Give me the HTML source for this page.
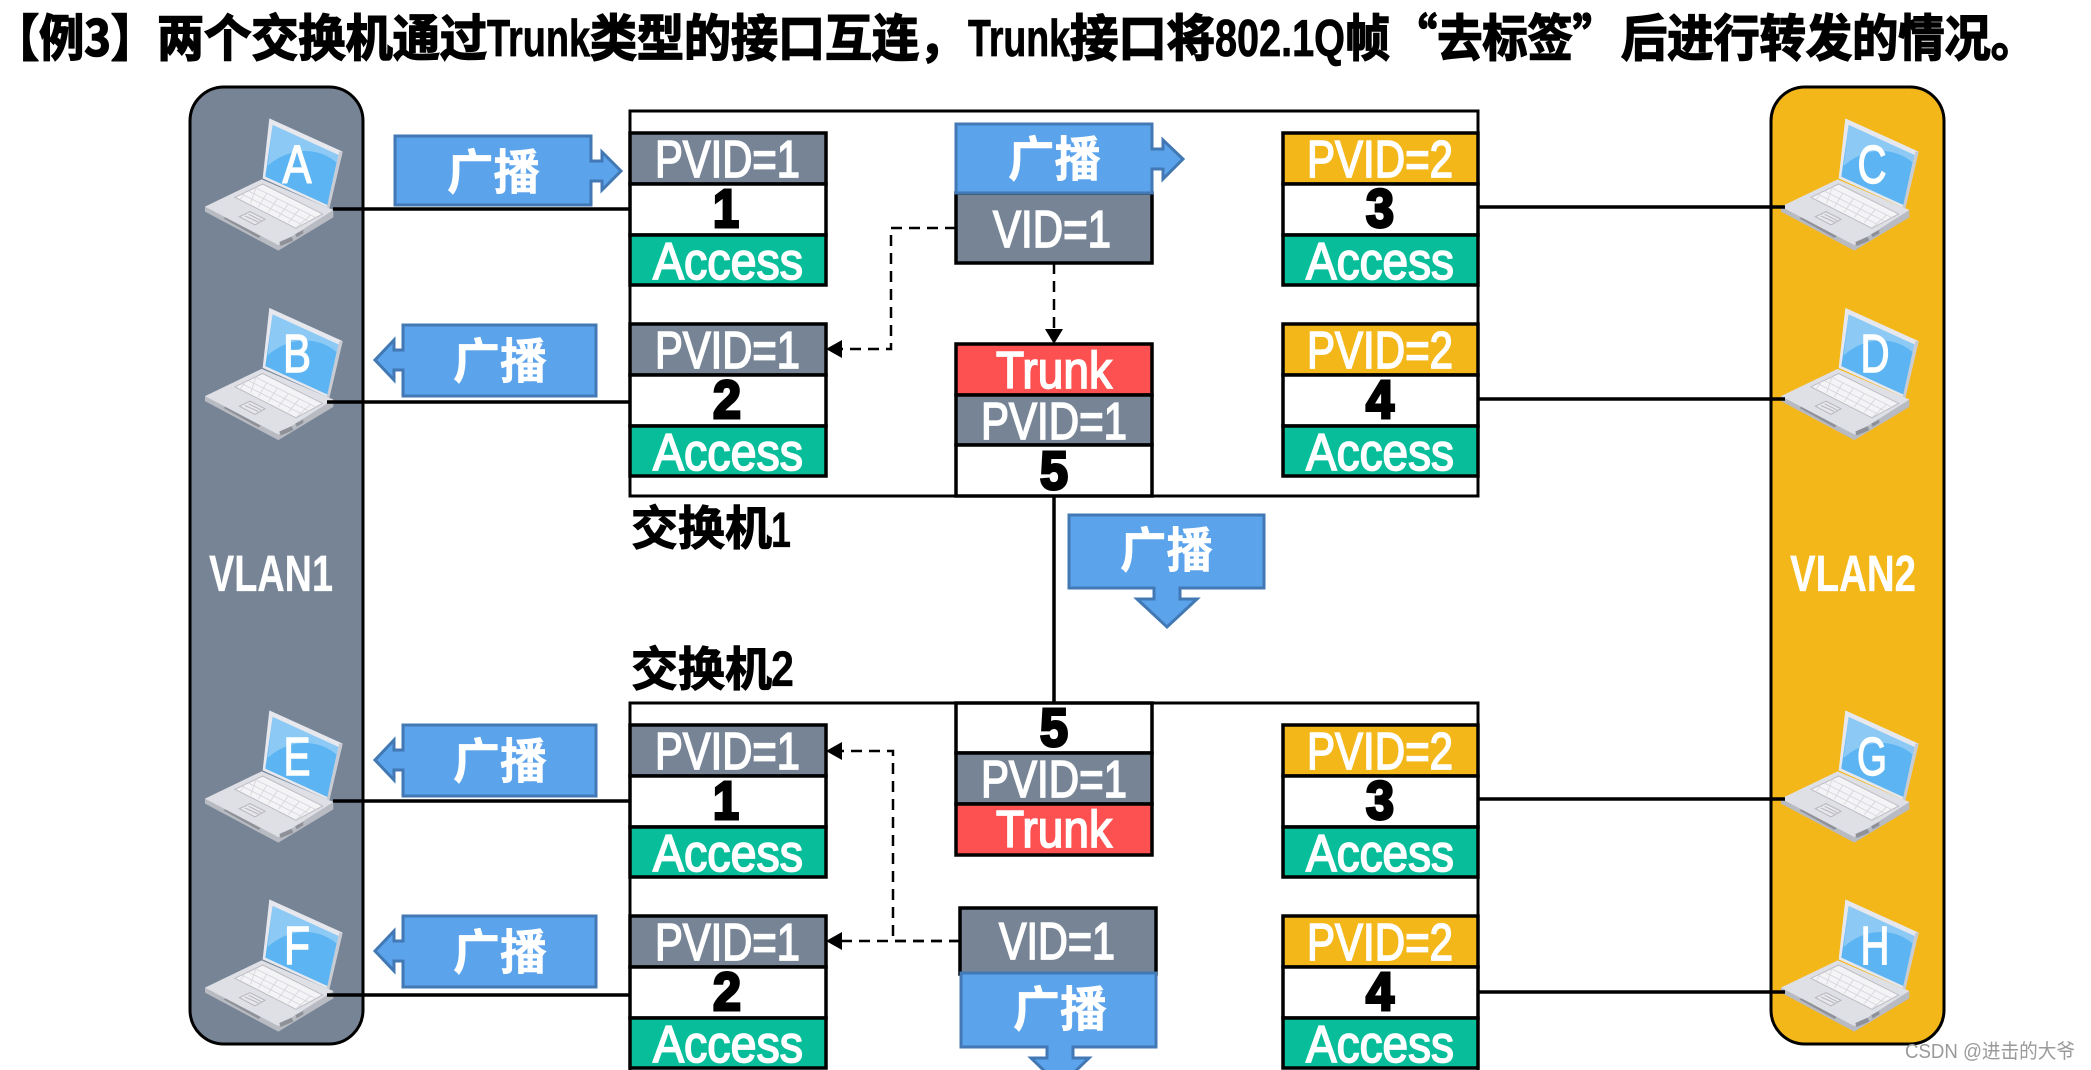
<!DOCTYPE html>
<html lang="zh"><head><meta charset="utf-8"><title>Trunk</title>
<style>
html,body{margin:0;padding:0;background:#fff;width:2091px;height:1070px;overflow:hidden}
svg{display:block}
text{font-family:"Liberation Sans","Noto Sans CJK SC",sans-serif}
.t{font-size:52px;font-weight:700;fill:#000;stroke:#000;stroke-width:.8}
.c{font-size:50px;font-weight:700;fill:#000;stroke:#000;stroke-width:1.6;font-family:"Noto Sans CJK SC",sans-serif}
.s{font-size:47px;font-weight:700;fill:#000;stroke:#000;stroke-width:1;font-family:"Noto Sans CJK SC",sans-serif}
.w{font-size:52px;fill:#fff;stroke:#fff;stroke-width:1.7;transform:translateY(-1px)}
.n{font-size:54px;font-weight:700;fill:#000;stroke:#000;stroke-width:3;text-anchor:middle;transform:translateY(-1px)}
.b{font-size:48px;font-weight:700;fill:#fff;stroke:#fff;stroke-width:.5;font-family:"Noto Sans CJK SC",sans-serif;transform:translateY(-2px)}
.l{font-size:51px;fill:#fff;stroke:#fff;stroke-width:.3;font-weight:700;transform:translateY(-1px)}
.pk{font-size:54px;fill:#fff;stroke:#fff;stroke-width:1.4;text-anchor:middle}
.r{stroke:#000;stroke-width:3.5}
.ar{fill:#5BA3EB;stroke:#4279B4;stroke-width:3}
</style></head><body>
<svg width="2091" height="1070" viewBox="0 0 2091 1070" xmlns="http://www.w3.org/2000/svg">
<defs>
<g id="lap">
<polygon points="238,25 458,125 418,295 218,205" fill="#e6e8ee"/>
<polygon points="458,125 418,295 410,292 448,125" fill="#c9cbd3"/>
<polygon points="248,45 445,135 412,285 226,200" fill="#5CB5F2"/>
<path d="M248,45 L445,135 L440,158 C380,105 290,115 233,168Z" fill="#8CCAF5"/>
<polygon points="45,305 45,290 430,300 430,322 265,422" fill="#b9bbc3"/>
<polygon points="45,290 215,208 430,300 265,405" fill="#dfe0e6"/>
<polygon points="135,262 218,222 398,312 318,355" fill="#f4f4f7" stroke="#bdbdc4" stroke-width="3"/>
<g stroke="#d5d5db" stroke-width="2.5">
<path d="M155,252 L338,345 M175,243 L358,335 M196,233 L378,323 M165,247 L150,270 M198,232 L182,280 M230,250 L205,292 M262,266 L235,307 M295,282 L265,322 M328,298 L295,338 M362,315 L320,352"/>
</g>
<polygon points="148,320 180,305 225,328 195,345" fill="#e8e8ec" stroke="#b5b5bb" stroke-width="3"/>
<path d="M165,318 L205,336 M176,313 L214,332" stroke="#b5b5bb" stroke-width="3"/>
<polygon points="100,325 106,322 212,378 206,384" fill="#8f9199"/>
<polygon points="268,396 305,380 310,392 272,408" fill="#8f9199"/>
<polygon points="316,372 340,360 340,370 320,382" fill="#8f9199"/>
</g>
</defs>

<!-- title -->
<text class="c" x="-6" y="56" textLength="162" lengthAdjust="spacingAndGlyphs">【例3】</text>
<text class="c" x="157" y="56" textLength="330" lengthAdjust="spacingAndGlyphs">两个交换机通过</text>
<text class="t" x="487" y="56" textLength="103" lengthAdjust="spacingAndGlyphs">Trunk</text>
<text class="c" x="590" y="56" textLength="376" lengthAdjust="spacingAndGlyphs">类型的接口互连，</text>
<text class="t" x="968" y="56" textLength="102" lengthAdjust="spacingAndGlyphs">Trunk</text>
<text class="c" x="1070" y="56" textLength="145" lengthAdjust="spacingAndGlyphs">接口将</text>
<text class="t" x="1215" y="56" textLength="130" lengthAdjust="spacingAndGlyphs">802.1Q</text>
<text class="c" x="1345" y="56" textLength="45" lengthAdjust="spacingAndGlyphs">帧</text>
<text class="c" x="1392" y="56" textLength="226" lengthAdjust="spacingAndGlyphs">“去标签”</text>
<text class="c" x="1621" y="56" textLength="416" lengthAdjust="spacingAndGlyphs">后进行转发的情况。</text>

<!-- VLAN panels -->
<rect x="190" y="87" width="173" height="957" rx="34" fill="#778495" stroke="#000" stroke-width="3"/>
<rect x="1771" y="87" width="173" height="957" rx="34" fill="#F4B71A" stroke="#000" stroke-width="3"/>
<text class="l" x="209" y="592" textLength="124" lengthAdjust="spacingAndGlyphs">VLAN1</text>
<text class="l" x="1790" y="592" textLength="126" lengthAdjust="spacingAndGlyphs">VLAN2</text>

<!-- switches -->
<rect x="630" y="111" width="848" height="385" fill="#fff" stroke="#000" stroke-width="3"/>
<path d="M630,1075 V703 H1478 V1075" fill="#fff" stroke="#000" stroke-width="3"/>
<path d="M1054,496 V703" stroke="#000" stroke-width="3.5" fill="none"/>

<!-- laptops -->
<use href="#lap" transform="translate(190,110) scale(.3333)"/>
<use href="#lap" transform="translate(190,299.5) scale(.3333)"/>
<use href="#lap" transform="translate(190,702) scale(.3333)"/>
<use href="#lap" transform="translate(190,891) scale(.3333)"/>
<use href="#lap" transform="translate(1766,110) scale(.3333)"/>
<use href="#lap" transform="translate(1766,299.5) scale(.3333)"/>
<use href="#lap" transform="translate(1766,702) scale(.3333)"/>
<use href="#lap" transform="translate(1766,891) scale(.3333)"/>
<text class="pk" x="297" y="183" textLength="29" lengthAdjust="spacingAndGlyphs">A</text>
<text class="pk" x="297" y="372" textLength="28" lengthAdjust="spacingAndGlyphs">B</text>
<text class="pk" x="297" y="775" textLength="27" lengthAdjust="spacingAndGlyphs">E</text>
<text class="pk" x="297" y="964" textLength="26" lengthAdjust="spacingAndGlyphs">F</text>
<text class="pk" x="1872" y="183" textLength="29" lengthAdjust="spacingAndGlyphs">C</text>
<text class="pk" x="1875" y="372" textLength="29" lengthAdjust="spacingAndGlyphs">D</text>
<text class="pk" x="1872" y="775" textLength="30" lengthAdjust="spacingAndGlyphs">G</text>
<text class="pk" x="1875" y="964" textLength="29" lengthAdjust="spacingAndGlyphs">H</text>

<!-- links -->
<g stroke="#000" stroke-width="3.5" fill="none">
<path d="M333,209 H630 M327,402 H630 M333,801 H630 M327,995 H630"/>
<path d="M1478,207 H1785 M1478,399 H1785 M1478,799 H1785 M1478,992 H1785"/>
</g>

<!-- SW1 left ports -->
<rect class="r" x="630" y="133" width="196" height="51" fill="#778495"/><rect class="r" x="630" y="184" width="196" height="51" fill="#fff"/><rect class="r" x="630" y="235" width="196" height="50" fill="#08BD9A"/>
<text class="w" x="655" y="178" textLength="145" lengthAdjust="spacingAndGlyphs">PVID=1</text><text class="n" x="726" y="228" textLength="26" lengthAdjust="spacingAndGlyphs">1</text><text class="w" x="653" y="280" textLength="150" lengthAdjust="spacingAndGlyphs">Access</text>
<rect class="r" x="630" y="324" width="196" height="51" fill="#778495"/><rect class="r" x="630" y="375" width="196" height="51" fill="#fff"/><rect class="r" x="630" y="426" width="196" height="50" fill="#08BD9A"/>
<text class="w" x="655" y="369" textLength="145" lengthAdjust="spacingAndGlyphs">PVID=1</text><text class="n" x="727" y="419" textLength="28" lengthAdjust="spacingAndGlyphs">2</text><text class="w" x="653" y="471" textLength="150" lengthAdjust="spacingAndGlyphs">Access</text>

<!-- SW1 right ports -->
<rect class="r" x="1283" y="133" width="195" height="51" fill="#F4B71A"/><rect class="r" x="1283" y="184" width="195" height="51" fill="#fff"/><rect class="r" x="1283" y="235" width="195" height="50" fill="#08BD9A"/>
<text class="w" x="1307" y="178" textLength="146" lengthAdjust="spacingAndGlyphs">PVID=2</text><text class="n" x="1380" y="228" textLength="28" lengthAdjust="spacingAndGlyphs">3</text><text class="w" x="1306" y="280" textLength="148" lengthAdjust="spacingAndGlyphs">Access</text>
<rect class="r" x="1283" y="324" width="195" height="51" fill="#F4B71A"/><rect class="r" x="1283" y="375" width="195" height="51" fill="#fff"/><rect class="r" x="1283" y="426" width="195" height="50" fill="#08BD9A"/>
<text class="w" x="1307" y="369" textLength="146" lengthAdjust="spacingAndGlyphs">PVID=2</text><text class="n" x="1380" y="419" textLength="28" lengthAdjust="spacingAndGlyphs">4</text><text class="w" x="1306" y="471" textLength="148" lengthAdjust="spacingAndGlyphs">Access</text>

<!-- SW2 left ports -->
<rect class="r" x="630" y="725" width="196" height="51" fill="#778495"/><rect class="r" x="630" y="776" width="196" height="51" fill="#fff"/><rect class="r" x="630" y="827" width="196" height="50" fill="#08BD9A"/>
<text class="w" x="655" y="770" textLength="145" lengthAdjust="spacingAndGlyphs">PVID=1</text><text class="n" x="726" y="820" textLength="26" lengthAdjust="spacingAndGlyphs">1</text><text class="w" x="653" y="872" textLength="150" lengthAdjust="spacingAndGlyphs">Access</text>
<rect class="r" x="630" y="916" width="196" height="51" fill="#778495"/><rect class="r" x="630" y="967" width="196" height="51" fill="#fff"/><rect class="r" x="630" y="1018" width="196" height="50" fill="#08BD9A"/>
<text class="w" x="655" y="961" textLength="145" lengthAdjust="spacingAndGlyphs">PVID=1</text><text class="n" x="727" y="1011" textLength="28" lengthAdjust="spacingAndGlyphs">2</text><text class="w" x="653" y="1063" textLength="150" lengthAdjust="spacingAndGlyphs">Access</text>

<!-- SW2 right ports -->
<rect class="r" x="1283" y="725" width="195" height="51" fill="#F4B71A"/><rect class="r" x="1283" y="776" width="195" height="51" fill="#fff"/><rect class="r" x="1283" y="827" width="195" height="50" fill="#08BD9A"/>
<text class="w" x="1307" y="770" textLength="146" lengthAdjust="spacingAndGlyphs">PVID=2</text><text class="n" x="1380" y="820" textLength="28" lengthAdjust="spacingAndGlyphs">3</text><text class="w" x="1306" y="872" textLength="148" lengthAdjust="spacingAndGlyphs">Access</text>
<rect class="r" x="1283" y="916" width="195" height="51" fill="#F4B71A"/><rect class="r" x="1283" y="967" width="195" height="51" fill="#fff"/><rect class="r" x="1283" y="1018" width="195" height="50" fill="#08BD9A"/>
<text class="w" x="1307" y="961" textLength="146" lengthAdjust="spacingAndGlyphs">PVID=2</text><text class="n" x="1380" y="1011" textLength="28" lengthAdjust="spacingAndGlyphs">4</text><text class="w" x="1306" y="1063" textLength="148" lengthAdjust="spacingAndGlyphs">Access</text>

<!-- trunk SW1 -->
<rect class="r" x="956" y="344" width="196" height="51" fill="#FD5050"/><rect class="r" x="956" y="395" width="196" height="50" fill="#778495"/><rect class="r" x="956" y="445" width="196" height="51" fill="#fff"/>
<text class="w" x="996" y="389" textLength="116" lengthAdjust="spacingAndGlyphs">Trunk</text><text class="w" x="981" y="440" textLength="146" lengthAdjust="spacingAndGlyphs">PVID=1</text><text class="n" x="1054" y="490" textLength="28" lengthAdjust="spacingAndGlyphs">5</text>
<!-- trunk SW2 -->
<rect class="r" x="956" y="703" width="196" height="50" fill="#fff"/><rect class="r" x="956" y="753" width="196" height="51" fill="#778495"/><rect class="r" x="956" y="804" width="196" height="51" fill="#FD5050"/>
<text class="n" x="1054" y="747" textLength="28" lengthAdjust="spacingAndGlyphs">5</text><text class="w" x="981" y="798" textLength="146" lengthAdjust="spacingAndGlyphs">PVID=1</text><text class="w" x="996" y="848" textLength="116" lengthAdjust="spacingAndGlyphs">Trunk</text>

<!-- VID boxes -->
<rect class="r" x="956" y="193" width="196" height="70" fill="#778495"/>
<text class="w" x="993" y="248" textLength="118" lengthAdjust="spacingAndGlyphs">VID=1</text>
<rect class="r" x="960" y="908" width="196" height="66" fill="#778495"/>
<text class="w" x="999" y="960" textLength="116" lengthAdjust="spacingAndGlyphs">VID=1</text>

<!-- dashed -->
<g fill="none" stroke="#000" stroke-width="2.5" stroke-dasharray="11 7">
<path d="M956,228 H891 V349 H842"/>
<path d="M1054,263 V332"/>
<path d="M960,941 H893 V751 H842"/>
<path d="M960,941 H842"/>
</g>
<g fill="#000">
<polygon points="826,349 842,340 842,358"/>
<polygon points="1054,344 1045,329 1063,329"/>
<polygon points="826,751 842,742 842,760"/>
<polygon points="826,941 842,932 842,950"/>
</g>

<!-- callouts -->
<path class="ar" d="M395,136 H591 V161 H602 V152 L621,171 L602,190 V181 H591 V205 H395Z"/>
<text class="b" x="447" y="191" textLength="93" lengthAdjust="spacingAndGlyphs">广播</text>
<path class="ar" d="M956,124 H1152 V149 H1163 V140 L1183,159 L1163,179 V169 H1152 V193 H956Z"/>
<text class="b" x="1008" y="178" textLength="93" lengthAdjust="spacingAndGlyphs">广播</text>
<path class="ar" d="M403,325 H596 V396 H403 V370 H394 V380 L375,360 L394,340 V350 H403Z"/>
<text class="b" x="453" y="380" textLength="94" lengthAdjust="spacingAndGlyphs">广播</text>
<path class="ar" d="M403,725 H596 V796 H403 V770 H394 V780 L375,760 L394,740 V750 H403Z"/>
<text class="b" x="453" y="780" textLength="94" lengthAdjust="spacingAndGlyphs">广播</text>
<path class="ar" d="M403,916 H596 V987 H403 V961 H394 V971 L375,951 L394,931 V941 H403Z"/>
<text class="b" x="453" y="971" textLength="94" lengthAdjust="spacingAndGlyphs">广播</text>
<path class="ar" d="M1069,515 H1264 V588 H1180 V599 H1197 L1167,627 L1137,599 H1154 V588 H1069Z"/>
<text class="b" x="1120" y="569" textLength="93" lengthAdjust="spacingAndGlyphs">广播</text>
<path class="ar" d="M961,973 H1156 V1047 H1073 V1058 H1089 L1060,1086 L1031,1058 H1047 V1047 H961Z"/>
<text class="b" x="1013" y="1028" textLength="94" lengthAdjust="spacingAndGlyphs">广播</text>

<!-- switch labels -->
<text class="s" x="631" y="545" textLength="141" lengthAdjust="spacingAndGlyphs">交换机</text>
<text class="t" x="771" y="547" textLength="20" lengthAdjust="spacingAndGlyphs" style="font-size:50px;stroke-width:.3">1</text>
<text class="s" x="631" y="686" textLength="141" lengthAdjust="spacingAndGlyphs">交换机</text>
<text class="t" x="771" y="686" textLength="23" lengthAdjust="spacingAndGlyphs" style="font-size:50px;stroke-width:.3">2</text>

<!-- watermark -->
<text x="1905" y="1058" font-size="20" fill="#9a9a9a" textLength="170" lengthAdjust="spacingAndGlyphs">CSDN @进击的大爷</text>
</svg>
</body></html>
